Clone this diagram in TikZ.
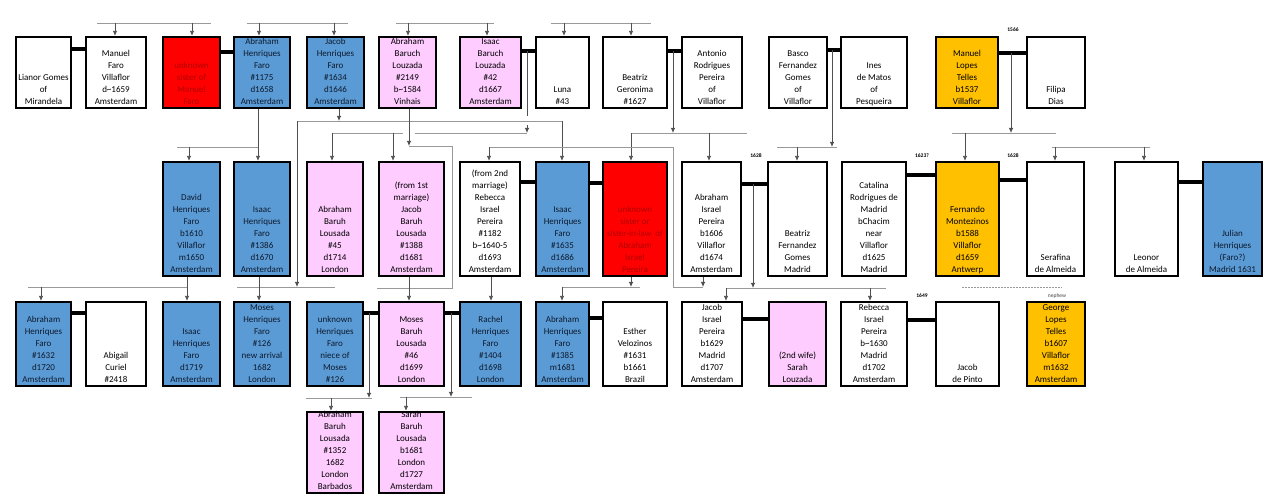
\documentclass[tikz,border=0pt]{standalone}
\usepackage{fontspec}
\setmainfont{Carlito}
\usetikzlibrary{arrows.meta}
\definecolor{cblue}{HTML}{5B9BD5}
\definecolor{cpink}{HTML}{FFCCFF}
\definecolor{cred}{HTML}{FF0000}
\definecolor{cgold}{HTML}{FFC000}
\definecolor{credtxt}{HTML}{B00000}
\definecolor{cbar}{HTML}{999999}
\definecolor{cdrop}{HTML}{505050}
\definecolor{cbtxt}{HTML}{0D1A2E}
\tikzset{
 pbox/.style={draw=black, line width=2.2pt, rectangle, inner sep=0pt},
 ptxt/.style={align=center, inner sep=0pt, font=\fontsize{9}{12}\selectfont, text depth=2pt, anchor=south},
 bar/.style={draw=cbar, line width=0.8pt},
 drop/.style={draw=cdrop, line width=0.8pt, -{Latex[length=5pt,width=4.5pt]}},
 wed/.style={draw=black, line width=3.5pt},
 yr/.style={font=\fontsize{5.5}{6}\selectfont\bfseries, inner sep=0pt},
}
\newcommand\pers[8]{%
 \node[pbox, fill=#6, minimum width={(#4-#2-2)*1pt}, minimum height={(#5-#3-2)*1pt}] (#1) at ({(#2+#4)/2},{(#3+#5)/2}) {};
 \node[ptxt, text=#7] at ([yshift=2pt]#1.south) {#8};
}
\begin{document}
\begin{tikzpicture}[x=1pt,y=-1pt]
\useasboundingbox[fill=white] (0,0) rectangle (1275,502);
% ---------- row 1
\pers{L1}{15}{36}{72}{109}{white}{black}{Lianor Gomes\\of\\Mirandela}
\pers{M1}{85}{36}{147}{109}{white}{black}{Manuel\\Faro\\Villaflor\\d\textasciitilde1659\\Amsterdam}
\pers{R1}{162}{36}{221}{109}{cred}{credtxt}{unknown\\sister of\\Manuel\\Faro}
\pers{A1}{233}{36}{291}{109}{cblue}{cbtxt}{Abraham\\Henriques\\Faro\\\#1175\\d1658\\Amsterdam}
\pers{J1}{306}{36}{365}{109}{cblue}{cbtxt}{Jacob\\Henriques\\Faro\\\#1634\\d1646\\Amsterdam}
\pers{AB1}{378}{36}{437}{109}{cpink}{black}{Abraham\\Baruch\\Louzada\\\#2149\\b\textasciitilde1584\\Vinhais}
\pers{IB1}{459}{36}{522}{109}{cpink}{black}{Isaac\\Baruch\\Louzada\\\#42\\d1667\\Amsterdam}
\pers{LU1}{535}{36}{590}{109}{white}{black}{Luna\\\#43}
\pers{BG1}{602}{36}{668}{109}{white}{black}{Beatriz\\Geronima\\\#1627}
\pers{AR1}{681}{36}{743}{109}{white}{black}{Antonio\\Rodrigues\\Pereira\\of\\Villaflor}
\pers{BA1}{768}{36}{828}{109}{white}{black}{Basco\\Fernandez\\Gomes\\of\\Villaflor}
\pers{IN1}{840}{36}{908}{109}{white}{black}{Ines\\de Matos\\of\\Pesqueira}
\pers{ML1}{935}{36}{999}{109}{cgold}{black}{Manuel\\Lopes\\Telles\\b1537\\Villaflor}
\pers{FD1}{1026}{36}{1086}{109}{white}{black}{Filipa\\Dias}
% ---------- row 2
\pers{D2}{162}{161}{221}{277}{cblue}{cbtxt}{David\\Henriques\\Faro\\b1610\\Villaflor\\m1650\\Amsterdam}
\pers{I2}{233}{161}{291}{277}{cblue}{cbtxt}{Isaac\\Henriques\\Faro\\\#1386\\d1670\\Amsterdam}
\pers{AB2}{306}{161}{364}{277}{cpink}{black}{Abraham\\Baruh\\Lousada\\\#45\\d1714\\London}
\pers{JB2}{378}{161}{445}{277}{cpink}{black}{(from 1st\\marriage)\\Jacob\\Baruh\\Lousada\\\#1388\\d1681\\Amsterdam}
\pers{RE2}{459}{161}{521}{277}{white}{black}{(from 2nd\\marriage)\\Rebecca\\Israel\\Pereira\\\#1182\\b\textasciitilde1640-5\\d1693\\Amsterdam}
\pers{IS2}{535}{161}{590}{277}{cblue}{cbtxt}{Isaac\\Henriques\\Faro\\\#1635\\d1686\\Amsterdam}
\pers{RS2}{602}{161}{668}{277}{cred}{credtxt}{unknown\\sister or\\sister-in-law\ \ of\\Abraham\\Israel\\Pereira}
\pers{AP2}{681}{161}{742}{277}{white}{black}{Abraham\\Israel\\Pereira\\b1606\\Villaflor\\d1674\\Amsterdam}
\pers{BF2}{767}{161}{828}{277}{white}{black}{Beatriz\\Fernandez\\Gomes\\Madrid}
\pers{CA2}{841}{161}{907}{277}{white}{black}{Catalina\\Rodrigues de\\Madrid\\bChacim\\near\\Villaflor\\d1625\\Madrid}
\pers{FM2}{935}{161}{1000}{277}{cgold}{black}{Fernando\\Montezinos\\b1588\\Villaflor\\d1659\\Antwerp}
\pers{SA2}{1026}{161}{1085}{277}{white}{black}{Serafina\\de Almeida}
\pers{LE2}{1114}{161}{1179}{277}{white}{black}{Leonor\\de Almeida}
\pers{JU2}{1202}{161}{1263}{277}{cblue}{cbtxt}{Julian\\Henriques\\(Faro?)\\Madrid 1631}
% ---------- row 3
\pers{A3}{15}{301}{72}{387}{cblue}{cbtxt}{Abraham\\Henriques\\Faro\\\#1632\\d1720\\Amsterdam}
\pers{AC3}{85}{301}{147}{387}{white}{black}{Abigail\\Curiel\\\#2418}
\pers{I3}{162}{301}{221}{387}{cblue}{cbtxt}{Isaac\\Henriques\\Faro\\d1719\\Amsterdam}
\pers{MO3}{233}{301}{291}{387}{cblue}{cbtxt}{Moses\\Henriques\\Faro\\\#126\\new arrival\\1682\\London}
\pers{UN3}{306}{301}{364}{387}{cblue}{cbtxt}{unknown\\Henriques\\Faro\\niece of\\Moses\\\#126}
\pers{MB3}{378}{301}{445}{387}{cpink}{black}{Moses\\Baruh\\Lousada\\\#46\\d1699\\London}
\pers{RA3}{459}{301}{522}{387}{cblue}{cbtxt}{Rachel\\Henriques\\Faro\\\#1404\\d1698\\London}
\pers{AH3}{535}{301}{590}{387}{cblue}{cbtxt}{Abraham\\Henriques\\Faro\\\#1385\\m1681\\Amsterdam}
\pers{ES3}{602}{301}{668}{387}{white}{black}{Esther\\Velozinos\\\#1631\\b1661\\Brazil}
\pers{JI3}{681}{301}{743}{387}{white}{black}{Jacob\\Israel\\Pereira\\b1629\\Madrid\\d1707\\Amsterdam}
\pers{SL3}{768}{301}{827}{387}{cpink}{black}{(2nd wife)\\Sarah\\Louzada}
\pers{RB3}{840}{301}{908}{387}{white}{black}{Rebecca\\Israel\\Pereira\\b\textasciitilde1630\\Madrid\\d1702\\Amsterdam}
\pers{JP3}{935}{301}{1000}{387}{white}{black}{Jacob\\de Pinto}
\pers{GE3}{1026}{301}{1086}{387}{cgold}{black}{George\\Lopes\\Telles\\b1607\\Villaflor\\m1632\\Amsterdam}
% ---------- row 4
\pers{AB4}{306}{411}{364}{494}{cpink}{black}{Abraham\\Baruh\\Lousada\\\#1352\\1682\\London\\Barbados}
\pers{SB4}{378}{411}{445}{494}{cpink}{black}{Sarah\\Baruh\\Lousada\\b1681\\London\\d1727\\Amsterdam}
% ---------- top sibling bars
\draw[bar] (97,23) -- (211,23);
\draw[drop] (115,23) -- (115,23 |- M1.north);
\draw[drop] (192,23) -- (192,23 |- R1.north);
\draw[bar] (247,23) -- (348,23);
\draw[drop] (259,23) -- (259,23 |- A1.north);
\draw[drop] (334,23) -- (334,23 |- J1.north);
\draw[bar] (396,23) -- (494,23);
\draw[drop] (408,23) -- (408,23 |- AB1.north);
\draw[drop] (487,23) -- (487,23 |- IB1.north);
\draw[bar] (551,23) -- (651,23);
\draw[drop] (564,23) -- (564,23 |- LU1.north);
\draw[drop] (631,23) -- (631,23 |- BG1.north);
% ---------- marriages row 1
\draw[wed] (L1.east |- 0,49) -- (M1.west |- 0,49);
\draw[wed] (R1.east |- 0,52) -- (A1.west |- 0,52);
\draw[wed] (IB1.east |- 0,51) -- (LU1.west |- 0,51);
\draw[wed] (BG1.east |- 0,51) -- (AR1.west |- 0,51);
\draw[wed] (BA1.east |- 0,50) -- (IN1.west |- 0,50);
\draw[wed] (ML1.east |- 0,53) -- (FD1.west |- 0,53);
% ---------- row 1 -> row 2
\draw[drop] (258,0 |- A1.south) -- (258,0 |- I2.north);
\draw[bar] (177,147) -- (258,147);
\draw[drop] (189,147) -- (189,147 |- D2.north);
\draw[drop] (339,0 |- J1.south) -- (339,121);
\draw[bar] (297,121) -- (562,121);
\draw[drop] (562,121) -- (562,121 |- IS2.north);
\draw[drop] (297,121) -- (297,287);
\draw[drop] (409,0 |- AB1.south) -- (409,146);
\draw[bar] (409,146) -- (452,146) -- (452,288) -- (377,288);
\draw[cdrop, line width=0.8pt] (527,51) -- (527,116);
\draw[drop] (527,125) -- (527,133);
\draw[bar] (332,133) -- (403,133);
\draw[bar] (415,133) -- (527,133);
\draw[drop] (332,133) -- (332,133 |- AB2.north);
\draw[drop] (393,133) -- (393,133 |- JB2.north);
\draw[drop] (673,51) -- (673,133);
\draw[bar] (631,133) -- (747,133);
\draw[drop] (631,133) -- (631,133 |- RS2.north);
\draw[drop] (709,133) -- (709,133 |- AP2.north);
\draw[bar] (489,147) -- (673,147) -- (673,287) -- (703,287);
\draw[drop] (489,147) -- (489,147 |- RE2.north);
\draw[drop] (703,0 |- AP2.south) -- (703,287);
\draw[drop] (832,50) -- (832,147);
\draw[bar] (777,147) -- (837,147);
\draw[drop] (797,147) -- (797,147 |- BF2.north);
\draw[drop] (1011,53) -- (1011,133);
\draw[bar] (952,133) -- (1056,133);
\draw[drop] (965,133) -- (965,133 |- FM2.north);
\draw[bar] (1052,147) -- (1150,147);
\draw[drop] (1055,147) -- (1055,147 |- SA2.north);
\draw[drop] (1144,147) -- (1144,147 |- LE2.north);
% ---------- marriages row 2
\draw[wed] (RE2.east |- 0,182) -- (IS2.west |- 0,182);
\draw[wed] (IS2.east |- 0,183) -- (RS2.west |- 0,183);
\draw[wed] (AP2.east |- 0,184) -- (BF2.west |- 0,184);
\draw[wed] (CA2.east |- 0,175) -- (FM2.west |- 0,175);
\draw[wed] (FM2.east |- 0,180) -- (SA2.west |- 0,180);
\draw[wed] (LE2.east |- 0,182) -- (JU2.west |- 0,182);
% ---------- row 2 -> row 3
\draw[drop] (187,0 |- D2.south) -- (187,0 |- I3.north);
\draw[bar] (28,287) -- (187,287);
\draw[drop] (41,287) -- (41,287 |- A3.north);
\draw[bar] (237,287) -- (335,287);
\draw[drop] (259,0 |- I2.south) -- (259,0 |- MO3.north);
\draw[drop] (409,0 |- JB2.south) -- (409,0 |- MB3.north);
\draw[drop] (491,0 |- RE2.south) -- (491,0 |- RA3.north);
\draw[drop] (631,0 |- RS2.south) -- (631,287);
\draw[bar] (562,287) -- (640,287);
\draw[drop] (562,287) -- (562,287 |- AH3.north);
\draw[drop] (753,184) -- (753,288);
\draw[bar] (726,288) -- (886,288);
\draw[drop] (726,288) -- (726,288 |- JI3.north);
\draw[drop] (870,288) -- (870,288 |- RB3.north);
\draw[cbar, line width=0.6pt, dash pattern=on 2pt off 1pt] (962,287) -- (1062,287);
% ---------- marriages row 3
\draw[wed] (A3.east |- 0,313) -- (AC3.west |- 0,313);
\draw[wed] (UN3.east |- 0,313) -- (MB3.west |- 0,313);
\draw[wed] (MB3.east |- 0,313) -- (RA3.west |- 0,313);
\draw[wed] (AH3.east |- 0,318) -- (ES3.west |- 0,318);
\draw[wed] (JI3.east |- 0,319) -- (SL3.west |- 0,319);
\draw[wed] (RB3.east |- 0,320) -- (JP3.west |- 0,320);
% ---------- row 3 -> row 4
\draw[drop] (369,313) -- (369,398);
\draw[bar] (306,398) -- (372,398);
\draw[drop] (331,398) -- (331,398 |- AB4.north);
\draw[drop] (451,313) -- (451,397);
\draw[bar] (400,397) -- (472,397);
\draw[drop] (406,397) -- (406,397 |- SB4.north);
% ---------- year labels
\node[yr] (y1566) at (1013,30) {1566};
\node[yr] (y1628a) at (756,156) {1628};
\node[yr] (y1623) at (922,156) {1623?};
\node[yr] (y1628b) at (1013,156) {1628};
\node[yr] (y1649) at (922,296) {1649};
\node[font=\fontsize{5.5}{6}\selectfont, text=black!75, inner sep=0pt] (neph) at (1057,296) {nephew};
\end{tikzpicture}
\end{document}
